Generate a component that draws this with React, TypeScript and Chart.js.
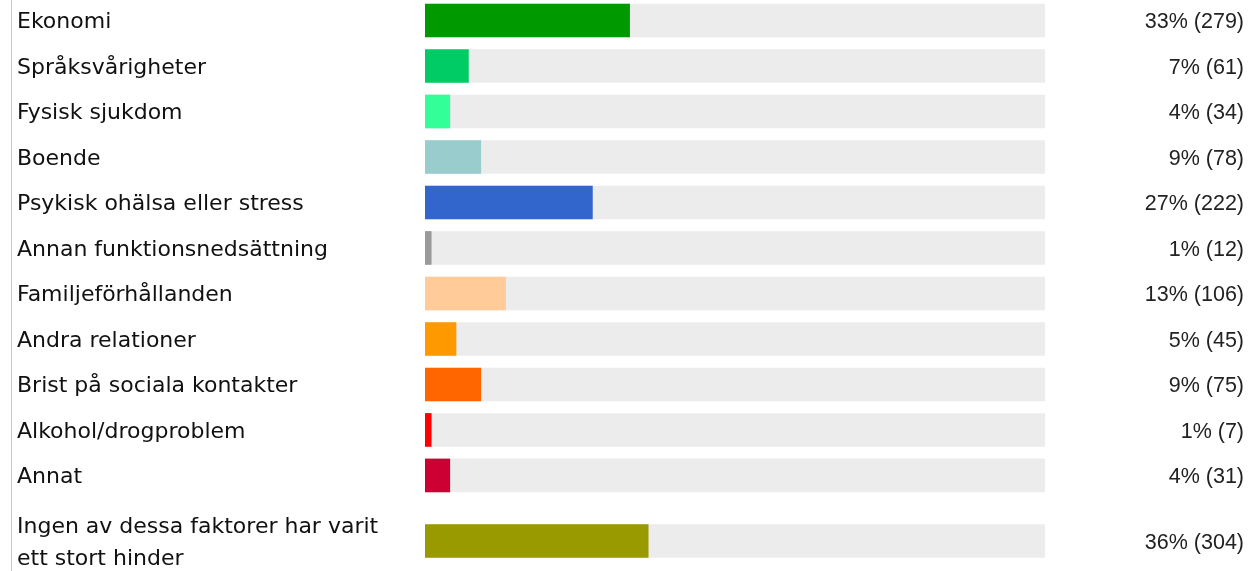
import React, { useEffect, useRef } from "react";
import { Chart, registerables } from "chart.js";

Chart.register(...registerables);

const categories: string[][] = [
  ["Ekonomi"],
  ["Språksvårigheter"],
  ["Fysisk sjukdom"],
  ["Boende"],
  ["Psykisk ohälsa eller stress"],
  ["Annan funktionsnedsättning"],
  ["Familjeförhållanden"],
  ["Andra relationer"],
  ["Brist på sociala kontakter"],
  ["Alkohol/drogproblem"],
  ["Annat"],
  ["Ingen av dessa faktorer har varit", "ett stort hinder"],
];
const percents = [33, 7, 4, 9, 27, 1, 13, 5, 9, 1, 4, 36];
const counts = [279, 61, 34, 78, 222, 12, 106, 45, 75, 7, 31, 304];
const colors = [
  "#009900",
  "#00cc66",
  "#33ff99",
  "#99cccc",
  "#3366cc",
  "#999999",
  "#ffcc99",
  "#ff9900",
  "#ff6600",
  "#ff0000",
  "#cc0033",
  "#999900",
];
const valueLabels = percents.map((p, i) => `${p}% (${counts[i]})`);

// layout: row height in units depends on the number of label lines
const rowUnits = categories.map((l) => (l.length > 1 ? 1.88 : 1));
const positions: number[] = [];
{
  let acc = 0;
  rowUnits.forEach((h) => {
    positions.push(acc + h / 2);
    acc += h;
  });
}

const leftLine = {
  id: "leftLine",
  beforeDraw(chart: any) {
    const ctx = chart.ctx;
    ctx.save();
    ctx.fillStyle = "#c8c8c8";
    ctx.fillRect(11, 0, 1, chart.height);
    ctx.restore();
  },
};

export default function App() {
  const ref = useRef<HTMLCanvasElement | null>(null);
  useEffect(() => {
    if (!ref.current) return;
    const setTicks = (scale: any) => {
      scale.ticks = positions.map((v) => ({ value: v }));
    };
    const fitTo = (w: number) => (scale: any) => {
      scale.width = w;
      scale.paddingTop = 0;
      scale.paddingBottom = 0;
    };
    const chart = new Chart(ref.current, {
      type: "bar",
      data: {
        datasets: [
          {
            label: "Andel",
            data: percents.map((p, i) => ({ x: p, y: positions[i] })),
            backgroundColor: colors,
            barThickness: 33,
            grouped: false,
            yAxisID: "y",
          } as any,
          {
            label: "Total",
            data: positions.map((y) => ({ x: 100, y })),
            backgroundColor: "#ececec",
            barThickness: 33,
            grouped: false,
            yAxisID: "y",
          } as any,
        ],
      },
      options: {
        indexAxis: "y",
        animation: false,
        responsive: false,
        layout: { autoPadding: false, padding: { left: 17, right: 5, top: 0, bottom: 0 } },
        plugins: { legend: { display: false }, tooltip: { enabled: false } },
        scales: {
          x: { type: "linear", min: 0, max: 100, display: false },
          y: {
            type: "linear",
            position: "left",
            reverse: true,
            offset: false,
            min: 0.05,
            max: 12.6,
            grid: { display: false },
            border: { display: false },
            afterBuildTicks: setTicks,
            afterFit: fitTo(408),
            ticks: {
              autoSkip: false,
              crossAlign: "far",
              labelOffset: 2,
              color: "#111",
              font: { family: "DejaVu Sans", size: 22, lineHeight: 1.45 },
              callback: (_v: any, i: number) => categories[i],
            },
          },
          y2: {
            type: "linear",
            position: "right",
            reverse: true,
            offset: false,
            min: 0.05,
            max: 12.6,
            grid: { display: false },
            border: { display: false },
            afterBuildTicks: setTicks,
            afterFit: fitTo(199),
            ticks: {
              autoSkip: false,
              crossAlign: "far",
              labelOffset: 2,
              color: "#222",
              font: { family: "Liberation Sans", size: 21.5 },
              callback: (_v: any, i: number) => valueLabels[i],
            },
          },
        },
      } as any,
      plugins: [leftLine],
    });
    return () => chart.destroy();
  }, []);
  return (
    <div style={{ position: "absolute", left: 0, top: 0, width: 1249, height: 571, background: "#fff" }}>
      <canvas ref={ref} width={1249} height={571} style={{ display: "block" }} />
    </div>
  );
}
